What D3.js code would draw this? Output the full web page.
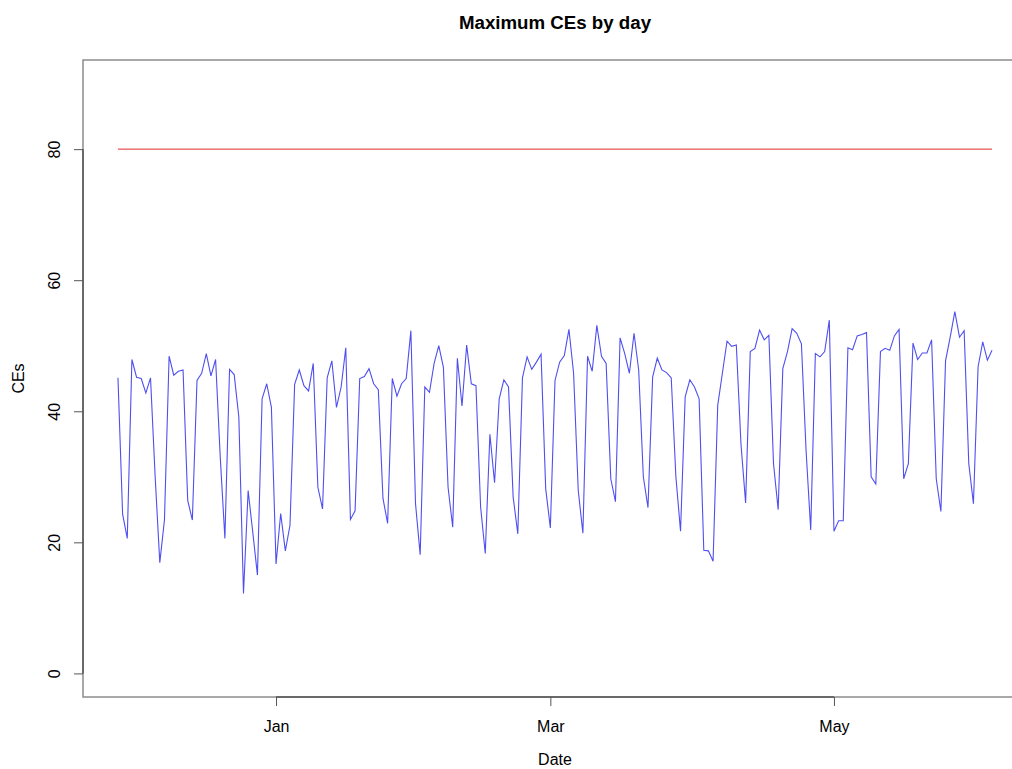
<!DOCTYPE html>
<html>
<head>
<meta charset="utf-8">
<script src="https://cdn.jsdelivr.net/npm/d3@7"></script>
<style>
  body { margin: 0; background: white; }
  text { font-family: "Liberation Sans", Arial, Helvetica, sans-serif; fill: black; }
</style>
</head>
<body>
<div id="graph"></div>
<script>
// data: one value per day starting 28 Nov
const startDate = "2016-11-28"
const maxCEs = [
  45.1, 24.3, 20.6, 47.9, 45.2, 45.0, 42.8, 45.1, 30.0, 16.9,
  23.4, 48.4, 45.5, 46.1, 46.3, 26.4, 23.4, 44.7, 45.8, 48.8,
  45.4, 47.9, 33.0, 20.6, 46.4, 45.6, 39.1, 12.2, 27.9, 21.5,
  15.0, 41.9, 44.2, 40.6, 16.7, 24.4, 18.7, 22.6, 44.1, 46.3,
  43.9, 43.1, 47.3, 28.4, 25.1, 45.1, 47.7, 40.6, 43.7, 49.7,
  23.5, 24.8, 45.0, 45.3, 46.5, 44.2, 43.3, 26.7, 22.9, 45.0,
  42.3, 44.2, 45.0, 52.3, 25.9, 18.1, 43.7, 42.9, 47.3, 50.0,
  46.7, 28.4, 22.3, 48.1, 40.8, 50.1, 44.2, 43.9, 25.4, 18.3,
  36.5, 29.1, 41.9, 44.8, 43.7, 26.9, 21.3, 45.1, 48.3, 46.4,
  47.5, 48.7, 28.2, 22.2, 44.7, 47.5, 48.5, 52.5, 45.8, 27.9,
  21.4, 48.4, 46.1, 53.1, 48.4, 47.3, 29.7, 26.2, 51.2, 48.8,
  45.8, 51.9, 46.3, 30.0, 25.3, 45.2, 48.1, 46.3, 45.9, 45.1,
  30.0, 21.7, 42.2, 44.8, 43.7, 41.9, 18.8, 18.7, 17.1, 40.9,
  45.8, 50.7, 49.9, 50.1, 35.0, 26.0, 49.1, 49.6, 52.4, 50.9,
  51.6, 32.0, 25.0, 46.5, 49.1, 52.6, 51.9, 50.3, 34.0, 21.9,
  48.8, 48.3, 49.1, 53.9, 21.7, 23.3, 23.3, 49.7, 49.4, 51.5,
  51.7, 52.0, 30.0, 28.9, 49.1, 49.6, 49.3, 51.5, 52.5, 29.7,
  32.0, 50.4, 47.9, 48.9, 48.9, 50.9, 29.7, 24.7, 47.7, 51.3,
  55.2, 51.3, 52.3, 32.0, 25.9, 46.8, 50.6, 47.8, 49.3
]
const limit = 80
const yTicks = [0, 20, 40, 60, 80]
const xTicks = ["2017-01-01", "2017-03-01", "2017-05-01"]
const yLimits = [0, 90]

const W = 1012
const H = 769
const box = {left: 83, right: 1027, top: 60, bottom: 697}

const day = 24 * 3600 * 1000
const t0 = new Date(startDate + "T00:00:00Z")
const reads = maxCEs.map((v, i) => ({date: new Date(+t0 + i * day), value: v}))

const svg = d3.select("#graph")
  .append("svg")
  .attr("width", W)
  .attr("height", H)

// R style axis limits: data range widened by 4% each side
const xExt = d3.extent(reads, d => d.date)
const pad = (xExt[1] - xExt[0]) * 0.04
const x = d3.scaleUtc()
  .domain([new Date(+xExt[0] - pad), new Date(+xExt[1] + pad)])
  .range([box.left, box.right])

const yPad = (yLimits[1] - yLimits[0]) * 0.04
const y = d3.scaleLinear()
  .domain([yLimits[0] - yPad, yLimits[1] + yPad])
  .range([box.bottom, box.top])

// plot box
svg.append("rect")
  .attr("x", box.left)
  .attr("y", box.top)
  .attr("width", box.right - box.left)
  .attr("height", box.bottom - box.top)
  .attr("fill", "none")
  .attr("stroke", "#8c8c8c")
  .attr("stroke-width", 1.5)

// threshold line
svg.append("line")
  .attr("x1", x(xExt[0]))
  .attr("x2", x(xExt[1]))
  .attr("y1", y(limit))
  .attr("y2", y(limit))
  .attr("stroke", "#e02a2a")
  .attr("stroke-width", 1)

// daily maximum line
const ceLine = d3.line()
  .x(d => x(d.date))
  .y(d => y(d.value))

svg.append("path")
  .datum(reads)
  .attr("d", ceLine)
  .attr("fill", "none")
  .attr("stroke", "#4f4ff0")
  .attr("stroke-width", 1.1)

// x axis
const xDates = xTicks.map(s => new Date(s + "T00:00:00Z"))
const xAxis = svg.append("g")
  .attr("transform", "translate(0," + box.bottom + ")")
  .call(d3.axisBottom(x)
    .tickValues(xDates)
    .tickFormat(d3.utcFormat("%b"))
    .tickSize(9)
    .tickPadding(22))
xAxis.select(".domain").remove()
xAxis.selectAll("line").attr("stroke", "#555")
xAxis.selectAll("text")
  .attr("font-size", "16px")
  .attr("dy", 0)
  .attr("y", 35)

svg.append("line")
  .attr("x1", x(xDates[0]))
  .attr("x2", x(xDates[xDates.length - 1]))
  .attr("y1", box.bottom)
  .attr("y2", box.bottom)
  .attr("stroke", "#555")
  .attr("stroke-width", 1.5)

// y axis
const yAxis = svg.append("g")
  .attr("transform", "translate(" + box.left + ",0)")
  .call(d3.axisLeft(y)
    .tickValues(yTicks)
    .tickSize(9))
yAxis.select(".domain").remove()
yAxis.selectAll("line").attr("stroke", "#555")
yAxis.selectAll("text")
  .attr("font-size", "16px")
  .attr("text-anchor", "middle")
  .attr("dy", 0)
  .attr("x", 0)
  .attr("transform", "translate(-23,0) rotate(-90)")

svg.append("line")
  .attr("x1", box.left)
  .attr("x2", box.left)
  .attr("y1", y(yTicks[0]))
  .attr("y2", y(yTicks[yTicks.length - 1]))
  .attr("stroke", "#555")
  .attr("stroke-width", 1.5)

// labels
svg.append("text")
  .attr("x", (box.left + box.right) / 2)
  .attr("y", 29)
  .attr("text-anchor", "middle")
  .attr("font-size", "18.7px")
  .attr("font-weight", "bold")
  .text("Maximum CEs by day")

svg.append("text")
  .attr("x", (box.left + box.right) / 2)
  .attr("y", 765)
  .attr("text-anchor", "middle")
  .attr("font-size", "16px")
  .text("Date")

svg.append("text")
  .attr("transform", "translate(24," + (box.top + box.bottom) / 2 + ") rotate(-90)")
  .attr("text-anchor", "middle")
  .attr("font-size", "16px")
  .text("CEs")
</script>
</body>
</html>
